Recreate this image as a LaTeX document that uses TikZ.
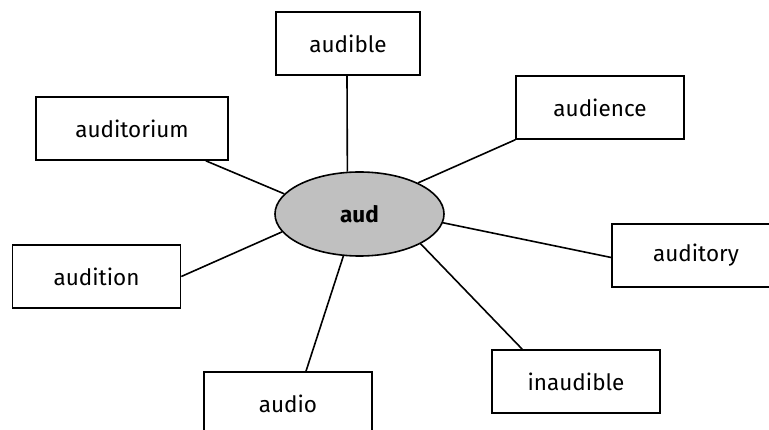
\documentclass[tikz,border=0pt]{standalone}
\usepackage{fontspec}
\setmainfont{Fira Sans}
\usetikzlibrary{shapes.geometric}
\definecolor{hubgray}{RGB}{192,192,192}
\begin{document}
\begin{tikzpicture}[x=1pt,y=-1pt,
  word/.style={draw=black, line width=1.6pt, fill=white, rectangle,
    minimum width=168pt, minimum height=63pt, inner sep=0pt,
    font=\fontsize{22.5}{27}\selectfont},
  hub/.style={draw=black, line width=1.6pt, fill=hubgray, ellipse,
    minimum width=169pt, minimum height=84pt, inner sep=0pt,
    font=\bfseries\fontsize{22.5}{27}\selectfont},
  link/.style={draw=black, line width=1.6pt}]
  \useasboundingbox (0,0) rectangle (769,430);
  \clip (0,0) rectangle (769,430);

  % central root
  \node[hub] (aud) at (359.5,214) {aud};

  % derived words
  \node[word, minimum width=144pt] (audible) at (348,43.5) {audible};
  \node[word] (audience) at (600,107.5) {audience};
  \node[word, minimum width=192pt] (auditorium) at (132,128.5) {auditorium};
  \node[word] (audition) at (96.5,276.5) {audition};
  \node[word] (auditory) at (696,255.5) {auditory};
  \node[word] (inaudible) at (576,381.5) {inaudible};
  \node[word] (audio) at (288,403.5) {audio};

  % spokes
  \draw[link] ([xshift=-1]audible.south) -- (aud.106.6);
  \draw[link] (audience.south west) -- (aud.28.7);
  \draw[link] ([xshift=-23]auditorium.south east) -- (aud.165.3);
  \draw[link] (audition.east) -- (aud.193);
  \draw[link] ([yshift=-2]auditory.west) -- (aud.354);
  \draw[link] ([xshift=31]inaudible.north west) -- (aud.334);
  \draw[link] ([xshift=18]audio.north) -- (aud.249.7);
\end{tikzpicture}
\end{document}
